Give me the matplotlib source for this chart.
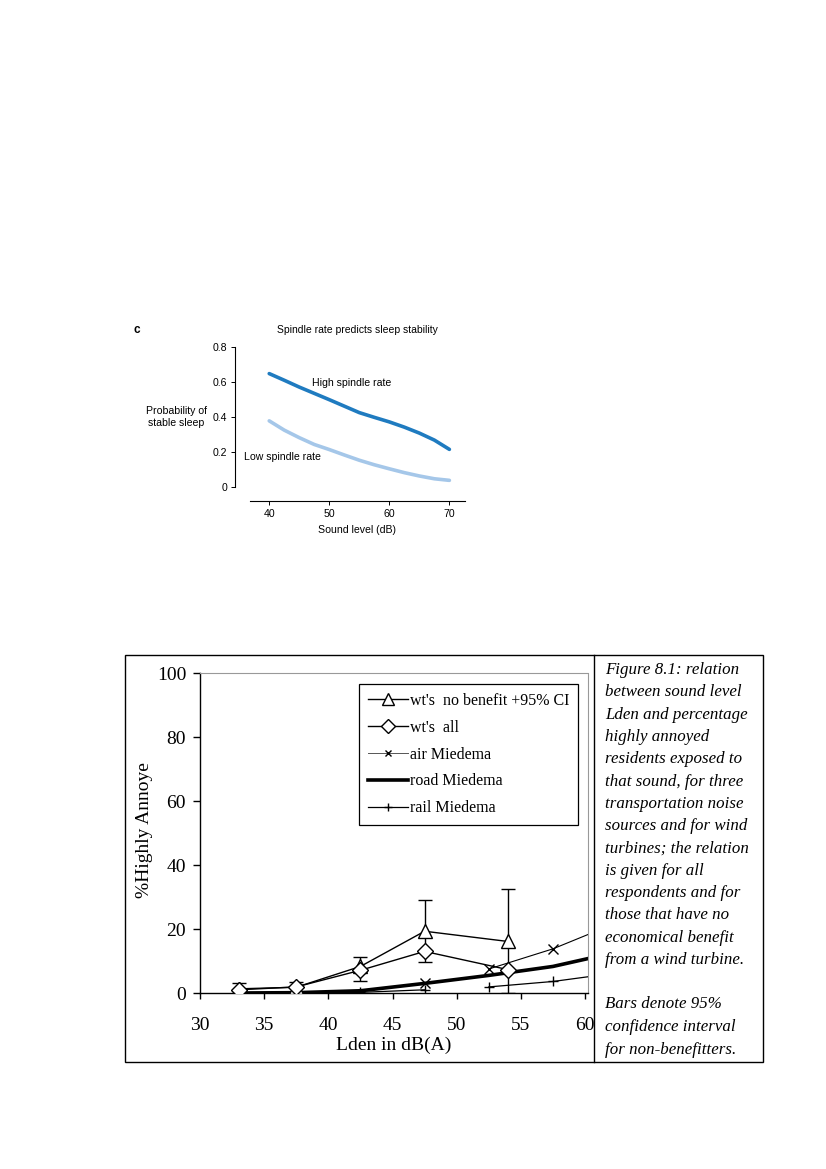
import matplotlib
matplotlib.use("Agg")
import matplotlib.pyplot as plt
import numpy as np
from matplotlib.lines import Line2D
from matplotlib.patches import Rectangle

# ---------------- data: top chart ----------------
sound_level = [40, 42.5, 45, 47.5, 50, 52.5, 55, 57.5, 60, 62.5, 65, 67.5, 70]
high_spindle = [0.648, 0.61, 0.571, 0.535, 0.499, 0.462, 0.425, 0.398, 0.372, 0.342, 0.308, 0.268, 0.215]
low_spindle = [0.378, 0.325, 0.282, 0.243, 0.214, 0.183, 0.153, 0.127, 0.104, 0.082, 0.063, 0.047, 0.038]
top_xticks = [40, 50, 60, 70]
top_yticks = [0, 0.2, 0.4, 0.6, 0.8]
top_yticklabels = ["0", "0.2", "0.4", "0.6", "0.8"]

# ---------------- data: bottom chart ----------------
wt_x = [33, 37.5, 42.5, 47.5, 54]
wt_nobenefit = [1.3, 1.8, 8.3, 19.3, 16.1]
wt_ci_low = [0.0, 0.0, 3.8, 9.6, 0.0]
wt_ci_high = [3.0, 3.5, 11.4, 29.2, 32.5]
wt_all = [1.0, 1.9, 7.1, 13.0, 7.3]
air_x = [47.5, 50, 52.5, 57.5, 62.5]
air_y = [3.1, np.nan, 7.5, 13.8, 22.0]
road_x = [33, 37.5, 42.5, 47.5, 52.5, 57.5, 62.5]
road_y = [0.0, 0.1, 0.7, 3.0, 5.5, 8.3, 12.8]
rail_x = [33, 37.5, 42.5, 47.5, 50, 52.5, 57.5, 62.5]
rail_y = [0.0, 0.0, 0.2, 1.0, np.nan, 1.9, 3.6, 6.3]
bot_xticks = [30, 35, 40, 45, 50, 55, 60]
bot_yticks = [0, 20, 40, 60, 80, 100]

caption_lines = [
    "Figure 8.1: relation",
    "between sound level",
    "Lden and percentage",
    "highly annoyed",
    "residents exposed to",
    "that sound, for three",
    "transportation noise",
    "sources and for wind",
    "turbines; the relation",
    "is given for all",
    "respondents and for",
    "those that have no",
    "economical benefit",
    "from a wind turbine.",
]
note_lines = ["Bars denote 95%", "confidence interval", "for non-benefitters."]

W, H = 826, 1169
fig = plt.figure(figsize=(W / 100, H / 100), dpi=100)
fig.patch.set_facecolor("white")


def fx(x):
    return x / W


def fy(y):
    return 1 - y / H


# ================= top chart =================
sans = "Liberation Sans"
ax1 = fig.add_axes([fx(250), fy(501), (465 - 250) / W, (501 - 347) / H])
ax1.plot(sound_level, high_spindle, color="#1f7bc0", lw=2.6, solid_capstyle="round")
ax1.plot(sound_level, low_spindle, color="#a5c7e9", lw=2.6, solid_capstyle="round")
ax1.set_xlim(36.8, 72.6)
ax1.set_ylim(-0.08, 0.8)
for s in ["top", "right"]:
    ax1.spines[s].set_visible(False)
ax1.spines["left"].set_position(("outward", 11))
ax1.spines["left"].set_bounds(0, 0.8)
ax1.spines["left"].set_linewidth(0.8)
ax1.spines["bottom"].set_linewidth(0.8)
ax1.set_xticks(top_xticks)
ax1.set_yticks(top_yticks)
ax1.set_yticklabels(top_yticklabels)
ax1.tick_params(axis="both", labelsize=7.6, length=3, width=0.7, pad=2.5)
for lab in ax1.get_xticklabels() + ax1.get_yticklabels():
    lab.set_fontfamily(sans)
ax1.set_xlabel("Sound level (dB)", fontsize=7.6, fontfamily=sans, labelpad=4.5)
ax1.text(47.1, 0.596, "High spindle rate", fontsize=7.6, fontfamily=sans, va="center", ha="left")
ax1.text(35.8, 0.173, "Low spindle rate", fontsize=7.6, fontfamily=sans, va="center", ha="left")
fig.text(fx(357), fy(330), "Spindle rate predicts sleep stability", fontsize=7.5, fontfamily=sans,
         ha="center", va="center")
fig.text(fx(137), fy(330), "c", fontsize=8.5, fontweight="bold", fontfamily=sans, ha="center", va="center")
fig.text(fx(176), fy(417), "Probability of\nstable sleep", fontsize=7.6, fontfamily=sans,
         ha="center", va="center", linespacing=1.25)

# ================= bottom chart =================
serif = "Liberation Serif"
fig.patches.append(Rectangle((fx(125), fy(1062)), (763 - 125) / W, (1062 - 655) / H,
                             transform=fig.transFigure, fill=False, edgecolor="black", lw=1.0))
fig.lines.append(Line2D([fx(594), fx(594)], [fy(655), fy(1062)], transform=fig.transFigure,
                        color="black", lw=1.0))

ax2 = fig.add_axes([fx(200), fy(993), (588 - 200) / W, (993 - 673) / H])
ax2.set_xlim(30, 60.23)
ax2.set_ylim(0, 100)

ax2.plot(road_x, road_y, color="black", lw=2.6, zorder=2)
ax2.plot(rail_x, rail_y, color="black", lw=0.9, marker="+", markersize=7, mew=1.0, zorder=3)
ax2.plot(air_x, air_y, color="black", lw=0.8, marker="x", markersize=6.5, mew=1.0, zorder=3)
yerr = [np.array(wt_nobenefit) - np.array(wt_ci_low), np.array(wt_ci_high) - np.array(wt_nobenefit)]
ax2.errorbar(wt_x, wt_nobenefit, yerr=yerr, fmt="none", ecolor="black", elinewidth=1.0,
             capsize=5, capthick=1.0, zorder=4)
ax2.plot(wt_x, wt_nobenefit, color="black", lw=1.0, marker="^", markersize=10,
         markerfacecolor="white", markeredgecolor="black", mew=1.0, zorder=5)
ax2.plot(wt_x, wt_all, color="black", lw=1.0, marker="D", markersize=8,
         markerfacecolor="white", markeredgecolor="black", mew=1.0, zorder=6)

for s in ["top", "right"]:
    ax2.spines[s].set_linestyle((0, (2, 1)))
    ax2.spines[s].set_color("#999999")
    ax2.spines[s].set_linewidth(0.8)
ax2.spines["left"].set_linewidth(1.0)
ax2.spines["bottom"].set_linewidth(1.0)
ax2.set_xticks(bot_xticks)
ax2.set_yticks(bot_yticks)
ax2.tick_params(axis="y", labelsize=14, length=5, width=1.0, pad=5, direction="out")
ax2.tick_params(axis="x", labelsize=14, length=4, width=1.0, pad=13, direction="out")
for lab in ax2.get_xticklabels() + ax2.get_yticklabels():
    lab.set_fontfamily(serif)
ax2.set_xlabel("Lden in dB(A)", fontsize=14, fontfamily=serif, labelpad=2.5)
ax2.set_ylabel("%Highly Annoye", fontsize=14, fontfamily=serif)
ax2.yaxis.set_label_coords(-0.121, 0.51)

handles = [
    Line2D([], [], color="black", lw=1.0, marker="^", markersize=9, markerfacecolor="white", mew=1.0),
    Line2D([], [], color="black", lw=1.0, marker="D", markersize=7, markerfacecolor="white", mew=1.0),
    Line2D([], [], color="#555555", lw=0.7, marker="x", markersize=5, mew=1.0, markeredgecolor="black"),
    Line2D([], [], color="black", lw=2.6),
    Line2D([], [], color="black", lw=0.9, marker="+", markersize=6, mew=1.0),
]
labels = ["wt's  no benefit +95% CI", "wt's  all", "air Miedema", "road Miedema", "rail Miedema"]
leg = ax2.legend(handles, labels, loc="upper left", bbox_to_anchor=(fx(359), fy(684)),
                 bbox_transform=fig.transFigure, prop={"family": serif, "size": 11.5},
                 frameon=True, fancybox=False, edgecolor="black", framealpha=1,
                 handlelength=2.5, handletextpad=0.15, labelspacing=0.68, borderpad=0.55,
                 borderaxespad=0)
leg.get_frame().set_linewidth(0.9)

for i, line in enumerate(caption_lines):
    fig.text(fx(605), fy(670 + 22.3 * i), line, fontsize=12.2, fontfamily=serif, style="italic",
             ha="left", va="center")
for i, line in enumerate(note_lines):
    fig.text(fx(605), fy(1004 + 23 * i), line, fontsize=12.2, fontfamily=serif, style="italic",
             ha="left", va="center")

fig.savefig("out.png", dpi=100)
